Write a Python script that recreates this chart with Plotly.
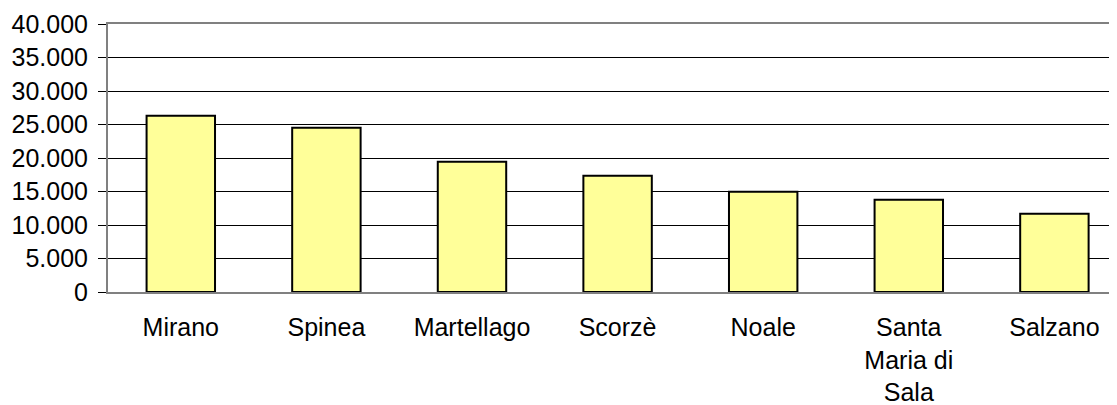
import plotly.graph_objects as go

categories = ["Mirano", "Spinea", "Martellago", "Scorzè", "Noale", "Santa<br>Maria di<br>Sala", "Salzano"]
values = [26300, 24500, 19450, 17350, 14970, 13780, 11690]
y_ticks = [0, 5000, 10000, 15000, 20000, 25000, 30000, 35000, 40000]

fig = go.Figure(
    go.Bar(
        x=categories,
        y=values,
        marker=dict(color="#FFFF99", line=dict(color="#000000", width=2)),
    )
)

font = dict(family="Liberation Sans, Arial, sans-serif", size=25, color="#000000")

# page body has an 8px default margin, so the figure is sized/offset to compensate
fig.update_layout(
    width=1109,
    height=397,
    margin=dict(l=100, r=0, t=16, b=113),
    paper_bgcolor="white",
    plot_bgcolor="white",
    separators=",.",
    bargap=0.53,
    showlegend=False,
    font=font,
)
fig.update_xaxes(
    type="category",
    range=[-0.5, 6.43],
    showline=True,
    linecolor="#808080",
    linewidth=2,
    mirror=True,
    showgrid=False,
    ticks="",
    tickfont=font,
    tickangle=0,
    ticklabelstandoff=12,
    automargin=False,
)
fig.update_yaxes(
    range=[0, 40000],
    tickvals=y_ticks,
    tickformat=",.0f",
    showgrid=True,
    gridcolor="#000000",
    gridwidth=1,
    showline=True,
    linecolor="#808080",
    linewidth=2,
    ticks="outside",
    ticklen=8,
    tickcolor="#000000",
    tickfont=font,
    ticklabelstandoff=5,
    zeroline=False,
    automargin=False,
)

fig.write_html("out.html")
